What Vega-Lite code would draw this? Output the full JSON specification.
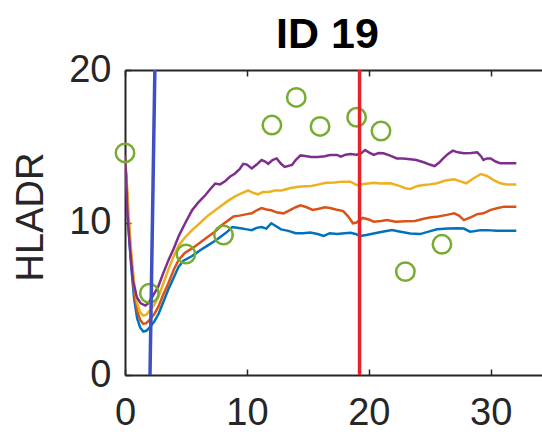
{
  "$schema": "https://vega.github.io/schema/vega-lite/v6.json",
  "width": 418,
  "height": 305,
  "autosize": "none",
  "padding": {"left": 125, "top": 70, "right": 0, "bottom": 57},
  "background": "white",
  "config": {"view": {"stroke": null}, "font": "Liberation Sans"},
  "title": {"text": "ID 19", "fontSize": 43, "fontWeight": "bold", "color": "black", "font": "Liberation Sans", "anchor": "middle", "dx": -6.5, "offset": -6},
  "datasets": {
    "curves": [
      {"s":"a","x":0,"y":14.3},{"s":"a","x":0.15,"y":12.0},{"s":"a","x":0.3,"y":9.5},{"s":"a","x":0.5,"y":7.2},{"s":"a","x":0.75,"y":5.0},{"s":"a","x":1.0,"y":3.7},{"s":"a","x":1.25,"y":3.1},{"s":"a","x":1.5,"y":2.85},{"s":"a","x":1.75,"y":2.9},{"s":"a","x":2.0,"y":3.1},{"s":"a","x":2.4,"y":3.5},{"s":"a","x":2.75,"y":4.0},{"s":"a","x":3.1,"y":4.7},{"s":"a","x":3.55,"y":5.6},{"s":"a","x":4.0,"y":6.4},{"s":"a","x":4.4,"y":7.1},{"s":"a","x":4.8,"y":7.5},{"s":"a","x":5.5,"y":7.8},{"s":"a","x":6.2,"y":8.2},{"s":"a","x":6.8,"y":8.5},{"s":"a","x":7.4,"y":8.8},{"s":"a","x":7.9,"y":9.1},{"s":"a","x":8.4,"y":9.4},{"s":"a","x":8.8,"y":9.7},{"s":"a","x":9.2,"y":9.65},{"s":"a","x":9.6,"y":9.6},{"s":"a","x":10.0,"y":9.55},{"s":"a","x":10.4,"y":9.5},{"s":"a","x":10.8,"y":9.65},{"s":"a","x":11.2,"y":9.7},{"s":"a","x":11.6,"y":9.6},{"s":"a","x":12.0,"y":9.95},{"s":"a","x":12.4,"y":9.75},{"s":"a","x":12.8,"y":9.55},{"s":"a","x":13.4,"y":9.45},{"s":"a","x":14.0,"y":9.3},{"s":"a","x":14.6,"y":9.3},{"s":"a","x":15.2,"y":9.35},{"s":"a","x":15.8,"y":9.25},{"s":"a","x":16.3,"y":9.12},{"s":"a","x":16.8,"y":9.3},{"s":"a","x":17.4,"y":9.25},{"s":"a","x":18.0,"y":9.3},{"s":"a","x":18.5,"y":9.33},{"s":"a","x":18.9,"y":9.25},{"s":"a","x":19.3,"y":9.12},{"s":"a","x":19.8,"y":9.18},{"s":"a","x":20.4,"y":9.28},{"s":"a","x":21.0,"y":9.38},{"s":"a","x":21.9,"y":9.5},{"s":"a","x":22.6,"y":9.4},{"s":"a","x":23.4,"y":9.28},{"s":"a","x":24.2,"y":9.24},{"s":"a","x":24.9,"y":9.4},{"s":"a","x":25.6,"y":9.55},{"s":"a","x":26.5,"y":9.6},{"s":"a","x":27.3,"y":9.62},{"s":"a","x":27.8,"y":9.6},{"s":"a","x":28.3,"y":9.4},{"s":"a","x":28.6,"y":9.42},{"s":"a","x":29.2,"y":9.5},{"s":"a","x":29.7,"y":9.5},{"s":"a","x":30.5,"y":9.46},{"s":"a","x":31.3,"y":9.46},{"s":"a","x":32.1,"y":9.46},
      {"s":"b","x":0,"y":14.3},{"s":"b","x":0.15,"y":12.3},{"s":"b","x":0.3,"y":10.0},{"s":"b","x":0.5,"y":7.7},{"s":"b","x":0.75,"y":5.5},{"s":"b","x":1.0,"y":4.2},{"s":"b","x":1.25,"y":3.6},{"s":"b","x":1.5,"y":3.35},{"s":"b","x":1.75,"y":3.4},{"s":"b","x":2.0,"y":3.6},{"s":"b","x":2.4,"y":4.0},{"s":"b","x":2.75,"y":4.5},{"s":"b","x":3.1,"y":5.2},{"s":"b","x":3.55,"y":6.0},{"s":"b","x":4.0,"y":6.9},{"s":"b","x":4.4,"y":7.55},{"s":"b","x":4.9,"y":8.0},{"s":"b","x":5.5,"y":8.3},{"s":"b","x":6.2,"y":8.7},{"s":"b","x":6.8,"y":9.07},{"s":"b","x":7.4,"y":9.4},{"s":"b","x":7.9,"y":9.8},{"s":"b","x":8.4,"y":10.1},{"s":"b","x":8.9,"y":10.4},{"s":"b","x":9.4,"y":10.45},{"s":"b","x":10.0,"y":10.55},{"s":"b","x":10.4,"y":10.6},{"s":"b","x":10.8,"y":10.8},{"s":"b","x":11.2,"y":10.95},{"s":"b","x":11.6,"y":10.85},{"s":"b","x":12.0,"y":10.8},{"s":"b","x":12.5,"y":10.65},{"s":"b","x":13.0,"y":10.6},{"s":"b","x":13.5,"y":10.8},{"s":"b","x":14.0,"y":11.0},{"s":"b","x":14.4,"y":11.12},{"s":"b","x":14.9,"y":11.0},{"s":"b","x":15.4,"y":10.82},{"s":"b","x":15.9,"y":10.9},{"s":"b","x":16.4,"y":11.0},{"s":"b","x":16.8,"y":10.95},{"s":"b","x":17.3,"y":10.85},{"s":"b","x":17.9,"y":10.75},{"s":"b","x":18.3,"y":10.4},{"s":"b","x":18.7,"y":9.95},{"s":"b","x":19.0,"y":10.0},{"s":"b","x":19.5,"y":10.3},{"s":"b","x":20.0,"y":10.2},{"s":"b","x":20.4,"y":10.05},{"s":"b","x":21.0,"y":10.1},{"s":"b","x":21.5,"y":10.16},{"s":"b","x":22.2,"y":10.05},{"s":"b","x":23.0,"y":10.08},{"s":"b","x":23.8,"y":10.1},{"s":"b","x":24.5,"y":10.25},{"s":"b","x":25.0,"y":10.33},{"s":"b","x":25.7,"y":10.4},{"s":"b","x":26.4,"y":10.5},{"s":"b","x":27.0,"y":10.6},{"s":"b","x":27.4,"y":10.45},{"s":"b","x":27.8,"y":10.16},{"s":"b","x":28.4,"y":10.35},{"s":"b","x":28.9,"y":10.55},{"s":"b","x":29.4,"y":10.6},{"s":"b","x":30.0,"y":10.83},{"s":"b","x":30.6,"y":10.95},{"s":"b","x":31.1,"y":11.04},{"s":"b","x":32.1,"y":11.04},
      {"s":"c","x":0,"y":14.3},{"s":"c","x":0.15,"y":12.6},{"s":"c","x":0.3,"y":10.5},{"s":"c","x":0.5,"y":8.2},{"s":"c","x":0.75,"y":6.0},{"s":"c","x":1.0,"y":4.7},{"s":"c","x":1.25,"y":4.1},{"s":"c","x":1.5,"y":3.9},{"s":"c","x":1.75,"y":3.95},{"s":"c","x":2.0,"y":4.2},{"s":"c","x":2.4,"y":4.6},{"s":"c","x":2.75,"y":5.15},{"s":"c","x":3.1,"y":5.9},{"s":"c","x":3.55,"y":6.9},{"s":"c","x":4.0,"y":7.8},{"s":"c","x":4.4,"y":8.5},{"s":"c","x":4.9,"y":9.0},{"s":"c","x":5.5,"y":9.5},{"s":"c","x":6.2,"y":10.0},{"s":"c","x":6.8,"y":10.45},{"s":"c","x":7.4,"y":10.8},{"s":"c","x":7.9,"y":11.1},{"s":"c","x":8.5,"y":11.45},{"s":"c","x":9.0,"y":11.7},{"s":"c","x":9.5,"y":11.9},{"s":"c","x":10.1,"y":12.1},{"s":"c","x":10.5,"y":11.95},{"s":"c","x":10.9,"y":11.85},{"s":"c","x":11.3,"y":12.0},{"s":"c","x":11.8,"y":12.0},{"s":"c","x":12.3,"y":12.1},{"s":"c","x":12.85,"y":12.1},{"s":"c","x":13.5,"y":12.25},{"s":"c","x":14.2,"y":12.35},{"s":"c","x":14.8,"y":12.38},{"s":"c","x":15.3,"y":12.4},{"s":"c","x":15.9,"y":12.5},{"s":"c","x":16.5,"y":12.6},{"s":"c","x":17.2,"y":12.62},{"s":"c","x":17.8,"y":12.68},{"s":"c","x":18.5,"y":12.68},{"s":"c","x":19.0,"y":12.46},{"s":"c","x":19.6,"y":12.52},{"s":"c","x":20.4,"y":12.6},{"s":"c","x":21.0,"y":12.55},{"s":"c","x":21.8,"y":12.57},{"s":"c","x":22.5,"y":12.4},{"s":"c","x":23.0,"y":12.25},{"s":"c","x":23.4,"y":12.2},{"s":"c","x":24.0,"y":12.4},{"s":"c","x":24.5,"y":12.46},{"s":"c","x":25.0,"y":12.5},{"s":"c","x":25.6,"y":12.57},{"s":"c","x":26.3,"y":12.75},{"s":"c","x":27.0,"y":12.83},{"s":"c","x":27.5,"y":12.7},{"s":"c","x":28.0,"y":12.57},{"s":"c","x":28.6,"y":12.9},{"s":"c","x":29.2,"y":13.18},{"s":"c","x":29.7,"y":13.05},{"s":"c","x":30.2,"y":12.8},{"s":"c","x":30.8,"y":12.57},{"s":"c","x":31.3,"y":12.5},{"s":"c","x":32.1,"y":12.5},
      {"s":"d","x":0,"y":14.4},{"s":"d","x":0.1,"y":12.8},{"s":"d","x":0.2,"y":10.6},{"s":"d","x":0.4,"y":8.4},{"s":"d","x":0.65,"y":6.2},{"s":"d","x":0.97,"y":5.1},{"s":"d","x":1.3,"y":4.7},{"s":"d","x":1.66,"y":4.55},{"s":"d","x":1.9,"y":4.7},{"s":"d","x":2.3,"y":5.2},{"s":"d","x":2.73,"y":5.8},{"s":"d","x":3.1,"y":6.6},{"s":"d","x":3.55,"y":7.5},{"s":"d","x":4.0,"y":8.3},{"s":"d","x":4.4,"y":9.1},{"s":"d","x":4.9,"y":9.9},{"s":"d","x":5.5,"y":10.8},{"s":"d","x":6.0,"y":11.3},{"s":"d","x":6.6,"y":11.8},{"s":"d","x":7.0,"y":12.2},{"s":"d","x":7.4,"y":12.55},{"s":"d","x":7.8,"y":12.5},{"s":"d","x":8.2,"y":12.7},{"s":"d","x":8.6,"y":13.0},{"s":"d","x":9.0,"y":13.2},{"s":"d","x":9.4,"y":13.5},{"s":"d","x":9.7,"y":13.85},{"s":"d","x":10.0,"y":13.8},{"s":"d","x":10.4,"y":13.55},{"s":"d","x":10.8,"y":13.8},{"s":"d","x":11.2,"y":14.1},{"s":"d","x":11.5,"y":14.0},{"s":"d","x":11.75,"y":13.85},{"s":"d","x":12.1,"y":14.1},{"s":"d","x":12.44,"y":14.2},{"s":"d","x":12.8,"y":13.85},{"s":"d","x":13.1,"y":13.65},{"s":"d","x":13.7,"y":13.77},{"s":"d","x":14.0,"y":14.1},{"s":"d","x":14.4,"y":14.4},{"s":"d","x":14.9,"y":14.35},{"s":"d","x":15.3,"y":14.3},{"s":"d","x":15.8,"y":14.3},{"s":"d","x":16.4,"y":14.35},{"s":"d","x":16.8,"y":14.43},{"s":"d","x":17.4,"y":14.43},{"s":"d","x":17.7,"y":14.32},{"s":"d","x":18.1,"y":14.45},{"s":"d","x":18.5,"y":14.49},{"s":"d","x":19.0,"y":14.45},{"s":"d","x":19.3,"y":14.5},{"s":"d","x":19.7,"y":14.75},{"s":"d","x":20.0,"y":14.6},{"s":"d","x":20.4,"y":14.43},{"s":"d","x":20.8,"y":14.55},{"s":"d","x":21.2,"y":14.54},{"s":"d","x":21.7,"y":14.4},{"s":"d","x":22.3,"y":14.2},{"s":"d","x":22.8,"y":14.2},{"s":"d","x":23.4,"y":14.15},{"s":"d","x":23.9,"y":14.1},{"s":"d","x":24.5,"y":13.95},{"s":"d","x":25.0,"y":13.8},{"s":"d","x":25.4,"y":13.7},{"s":"d","x":25.8,"y":13.95},{"s":"d","x":26.1,"y":14.2},{"s":"d","x":26.5,"y":14.5},{"s":"d","x":26.9,"y":14.71},{"s":"d","x":27.3,"y":14.6},{"s":"d","x":27.8,"y":14.54},{"s":"d","x":28.4,"y":14.55},{"s":"d","x":28.9,"y":14.6},{"s":"d","x":29.2,"y":14.35},{"s":"d","x":29.4,"y":14.1},{"s":"d","x":29.7,"y":14.2},{"s":"d","x":30.0,"y":14.2},{"s":"d","x":30.4,"y":14.0},{"s":"d","x":30.8,"y":13.88},{"s":"d","x":31.4,"y":13.88},{"s":"d","x":32.1,"y":13.88}
    ],
    "obs": [
      {"x":0,"y":14.56},{"x":2.0,"y":5.36},{"x":5.0,"y":7.93},{"x":8.08,"y":9.18},{"x":12.05,"y":16.39},{"x":14.05,"y":18.2},{"x":16.0,"y":16.3},{"x":19.0,"y":16.9},{"x":21.0,"y":16.0},{"x":23.0,"y":6.78},{"x":26.0,"y":8.57}
    ],
    "vlines": [
      {"l":"start","x":2.05,"y":0},{"l":"start","x":2.45,"y":20},
      {"l":"end","x":19.24,"y":0},{"l":"end","x":19.24,"y":20}
    ]
  },
  "layer": [
    {
      "data": {"name": "curves"},
      "mark": {"type": "line", "strokeWidth": 2.5, "clip": true},
      "encoding": {
        "x": {"field": "x", "type": "quantitative", "scale": {"domain": [0, 34.29], "nice": false, "zero": false},
          "axis": {"orient": "bottom", "values": [0, 10, 20, 30], "title": null, "grid": false, "domainColor": "#262626", "domainWidth": 2, "tickColor": "#262626", "tickSize": -6, "tickWidth": 1.5, "labelFontSize": 38, "labelColor": "#262626", "labelPadding": 25, "labelFlush": false, "labelOverlap": false, "labelFont": "Liberation Sans"}},
        "y": {"field": "y", "type": "quantitative", "scale": {"domain": [0, 20], "nice": false},
          "axis": {"values": [0, 10, 20], "title": "HLADR", "grid": false, "domainColor": "#262626", "domainWidth": 2, "tickColor": "#262626", "tickSize": -6, "tickWidth": 1.5, "labelFontSize": 38, "labelColor": "#262626", "labelPadding": 20, "labelFlush": false, "labelOverlap": false, "labelFont": "Liberation Sans", "titleFontSize": 38, "titleFontWeight": "normal", "titleColor": "#262626", "titleFont": "Liberation Sans", "titleX": -83, "titleY": 146.5, "titleBaseline": "alphabetic"}},
        "color": {"field": "s", "type": "nominal", "legend": null, "scale": {"domain": ["a", "b", "c", "d"], "range": ["#0072BD", "#D95319", "#EDB120", "#7E2F8E"]}}
      }
    },
    {
      "data": {"name": "obs"},
      "mark": {"type": "point", "shape": "circle", "filled": false, "size": 340, "strokeWidth": 2.5, "color": "#77AC30", "opacity": 1},
      "encoding": {
        "x": {"field": "x", "type": "quantitative", "axis": null},
        "y": {"field": "y", "type": "quantitative"}
      }
    },
    {
      "data": {"name": "vlines"},
      "mark": {"type": "line", "strokeWidth": 3.5, "clip": true},
      "encoding": {
        "x": {"field": "x", "type": "quantitative",
          "axis": {"orient": "top", "values": [0, 10, 20, 30], "labels": false, "title": null, "grid": false, "domainColor": "#262626", "domainWidth": 2, "tickColor": "#262626", "tickSize": -6, "tickWidth": 1.5}},
        "y": {"field": "y", "type": "quantitative"},
        "color": {"field": "l", "type": "nominal", "legend": null, "scale": {"domain": ["start", "end"], "range": ["#3F4FC4", "#E8222B"]}}
      }
    }
  ],
  "resolve": {"axis": {"x": "independent"}, "scale": {"color": "independent"}}
}
